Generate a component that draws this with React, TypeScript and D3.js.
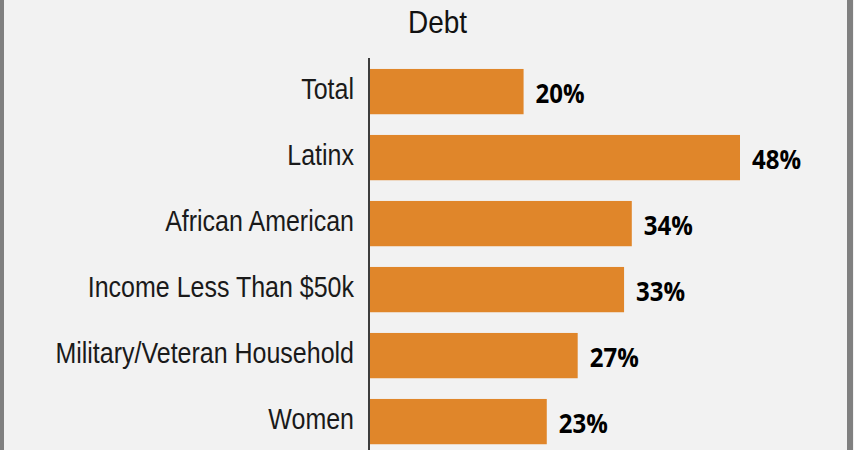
import * as d3 from "d3";

const categories = [
  "Total",
  "Latinx",
  "African American",
  "Income Less Than $50k",
  "Military/Veteran Household",
  "Women",
];
const values = [20, 48, 34, 33, 27, 23];
const title = "Debt";

const width = 860;
const height = 450;

export default function App() {
  const x = d3.scaleLinear().domain([0, 48]).range([369, 740]);
  const y = d3
    .scaleBand<string>()
    .domain(categories)
    .range([58.6, 58.6 + 66 * categories.length])
    .paddingInner(0.314)
    .paddingOuter(0.157);

  return (
    <svg
      width={width}
      height={height}
      style={{ position: "fixed", left: 0, top: 0, display: "block" }}
    >
      <rect x={0} y={0} width={width} height={height} fill="#ffffff" />
      <rect x={0} y={0} width={854} height={height} fill="#f2f2f2" />
      <rect x={0} y={0} width={4} height={height} fill="#808080" />
      <rect x={847} y={0} width={6} height={height} fill="#808080" />

      <g transform="translate(437.5,22) scale(1,1.15)">
        <text
          textAnchor="middle"
          dominantBaseline="central"
          fontFamily="Liberation Sans, Arial, sans-serif"
          fontSize={28}
          fill="#111"
        >
          {title}
        </text>
      </g>

      {categories.map((c, i) => {
        const yy = y(c) ?? 0;
        const cy = yy + y.bandwidth() / 2;
        return (
          <g key={c}>
            <rect
              x={x(0) + 1}
              y={yy}
              width={x(values[i]) - x(0) - 1}
              height={y.bandwidth()}
              fill="#e0862a"
            />
            <g transform={`translate(354,${cy - 2.5}) scale(1,1.18)`}>
              <text
                textAnchor="end"
                dominantBaseline="central"
                fontFamily="Liberation Sans, Arial, sans-serif"
                fontSize={25}
                fill="#1a1a1a"
              >
                {c}
              </text>
            </g>
            <g transform={`translate(${x(values[i]) + 12},${cy + 0.5}) scale(1,1.1)`}>
              <text
                dominantBaseline="central"
                fontFamily="Open Sans, Lato, sans-serif"
                fontWeight="bold"
                fontSize={24}
                fill="#000"
              >
                {values[i]}%
              </text>
            </g>
          </g>
        );
      })}

      <line x1={369} y1={58} x2={369} y2={height} stroke="#000" strokeWidth={1.5} />
    </svg>
  );
}
